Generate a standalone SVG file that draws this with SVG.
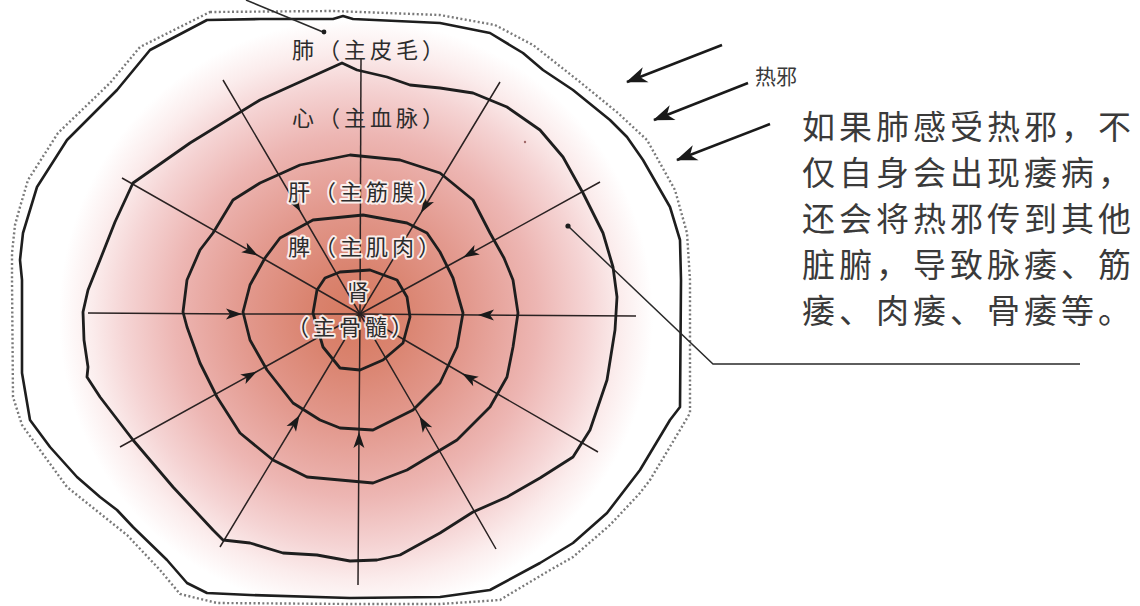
<svg xmlns="http://www.w3.org/2000/svg" width="1140" height="606" viewBox="0 0 1140 606">
<defs>
<radialGradient id="glow" gradientUnits="userSpaceOnUse" cx="356" cy="316" r="330">
<stop offset="0" stop-color="#d6795f"/>
<stop offset="0.15" stop-color="#da8470"/>
<stop offset="0.35" stop-color="#e39a8f"/>
<stop offset="0.55" stop-color="#edb6b3"/>
<stop offset="0.7" stop-color="#f5d4d4"/>
<stop offset="0.8" stop-color="#fbecec"/>
<stop offset="0.9" stop-color="#ffffff"/>
<stop offset="1" stop-color="#ffffff"/>
</radialGradient>
<marker id="ah" markerUnits="userSpaceOnUse" markerWidth="20" markerHeight="14" refX="0" refY="0" viewBox="-18 -7 20 14" orient="auto">
<path d="M1,0 L-15,-5.5 L-11,0 L-15,5.5 Z" fill="#1a1a1a"/>
</marker>
<marker id="hot" markerUnits="userSpaceOnUse" markerWidth="26" markerHeight="18" refX="0" refY="0" viewBox="-22 -9 24 18" orient="auto">
<path d="M1,0 L-20,-8 L-14,0 L-20,8 Z" fill="#1a1a1a"/>
</marker>
</defs>
<style>
.ring{fill:none;stroke:#1e1e1e;stroke-width:2.8;stroke-linejoin:round}
.dots{fill:none;stroke:#7a7a7a;stroke-width:2.4;stroke-dasharray:2 2.4}
.ray{fill:none;stroke:#2a2222;stroke-width:1.5}
.lead{fill:none;stroke:#2a2a2a;stroke-width:1.5}
.hotline{fill:none;stroke:#1a1a1a;stroke-width:2.6;marker-end:url(#hot)}
.lbl{font-family:"Noto Sans CJK SC","Noto Sans CJK JP",sans-serif;font-size:22px;fill:#2c2c2c;letter-spacing:4px}
.halo{paint-order:stroke;stroke:#ffffff;stroke-width:4;stroke-opacity:0.85;stroke-linejoin:round}
.para{font-family:"Noto Sans CJK SC","Noto Sans CJK JP",sans-serif;font-size:33px;fill:#3a3a3a;letter-spacing:4px}
.small{font-family:"Noto Sans CJK SC","Noto Sans CJK JP",sans-serif;font-size:21px;fill:#3a3a3a}
</style>
<rect width="1140" height="606" fill="#ffffff"/>

<g id="outer-boundary">
<path class="dots" d="M210,12 L333,11 L440,15 L495,25 L533,45 L580,82 L618,113 L647,140 L675,190 L687,233 L690,280 L690,413 L680,430 L650,480 L640,493 L610,525 L573,557 L545,573 L500,600 L440,604 L350,604 L217,603 L180,594 L160,570 L127,535 L67,487 L40,450 L22,425 L13,397 L12,280 L12,253 L15,225 L20,207 L28,180 L58,133 L110,83 L140,47 Z"/>
<path id="outer-solid" fill="url(#glow)" stroke="#1e1e1e" stroke-width="2.6" stroke-linejoin="round" d="M207,20 L260,19 L333,19 L343,16 L353,19 L440,23 L490,33 L523,53 L543,70 L573,90 L610,120 L627,137 L643,160 L670,207 L680,240 L681,280 L680,407 L670,420 L640,470 L607,513 L573,543 L540,563 L490,590 L440,597 L350,598 L250,595 L207,593 L187,583 L167,560 L133,527 L117,510 L100,497 L77,477 L50,447 L30,420 L22,373 L22,280 L20,260 L23,233 L37,187 L67,140 L117,90 L150,50 Z"/>
</g>

<g id="connectors">
<path class="ray" d="M361,58 L360,314"/>
<path class="ray" marker-mid="url(#ah)" d="M88,313 L241,314 L360,314"/>
<path class="ray" marker-mid="url(#ah)" d="M636,316 L479,315 L360,314"/>
<path class="ray" marker-mid="url(#ah)" d="M358,585 L359,433 L360,314"/>
<path class="ray" marker-mid="url(#ah)" d="M223,80 L300,211 L360,314"/>
<path class="ray" marker-mid="url(#ah)" d="M500,82 L421.5,212 L360,314"/>
<path class="ray" marker-mid="url(#ah)" d="M122,178 L257,255 L360,314"/>
<path class="ray" marker-mid="url(#ah)" d="M600,182 L464,257 L360,314"/>
<path class="ray" marker-mid="url(#ah)" d="M120,447 L256,372 L360,314"/>
<path class="ray" marker-mid="url(#ah)" d="M598,452 L463,374 L360,314"/>
<path class="ray" marker-mid="url(#ah)" d="M220,547 L299,416 L360,314"/>
<path class="ray" marker-mid="url(#ah)" d="M496,549 L420,417 L360,314"/>
<path class="hotline" d="M722,45 L627,82"/>
<path class="hotline" d="M748,83 L654,120"/>
<path class="hotline" d="M770,124 L677,160"/>
<path class="lead" d="M246,0 L323,32"/>
<circle cx="324" cy="32" r="2.4" fill="#1e1e1e"/>
<path class="lead" d="M568,226 L713,364 L1080,364"/>
<circle cx="568" cy="226" r="2.6" fill="#1e1e1e"/>
<circle cx="525" cy="142" r="1.2" fill="#a06868"/>
</g>

<g id="ring-heart"><path class="ring" d="M342,63 L357,70 L387,77 L410,85 L440,88 L473,93 L507,107 L540,130 L563,157 L583,193 L603,233 L613,267 L617,297 L615,330 L607,380 L590,430 L573,457 L540,478 L507,497 L473,512 L440,533 L400,555 L377,560 L350,561 L317,555 L283,553 L250,543 L223,540 L213,530 L173,487 L133,440 L100,397 L87,377 L88,367 L84,340 L83,312 L88,290 L100,260 L115,222 L133,183 L190,143 L260,100 Z"/></g>
<g id="ring-liver"><path class="ring" d="M350,155 L400,160 L440,173 L473,200 L490,233 L504,258 L513,280 L518,313 L513,347 L507,377 L490,407 L457,440 L407,470 L373,483 L340,480 L307,477 L273,460 L240,433 L217,397 L200,363 L187,327 L183,312 L187,280 L200,250 L213,233 L233,200 L260,183 L300,165 Z"/></g>
<g id="ring-spleen"><path class="ring" d="M363,215 L407,223 L427,233 L440,252 L453,278 L463,313 L457,347 L440,383 L413,410 L373,430 L340,428 L320,420 L293,403 L267,370 L250,340 L243,312 L250,285 L265,258 L280,238 L313,220 Z"/></g>
<g id="ring-kidney"><path class="ring" d="M340,272 L370,270 L397,280 L407,297 L410,317 L403,343 L383,360 L360,370 L340,368 L323,347 L313,313 L317,290 L325,278 Z"/></g>

<g id="label-lung"><text class="lbl" x="292" y="58">肺（主皮毛）</text></g>
<g id="label-heart"><text class="lbl" x="292" y="126">心（主血脉）</text></g>
<g id="label-liver"><text class="lbl halo" x="288" y="200">肝（主筋膜）</text></g>
<g id="label-spleen"><text class="lbl halo" x="288" y="255">脾（主肌肉）</text></g>
<g id="label-kidney">
<text class="lbl halo" x="347" y="300" letter-spacing="0">肾</text>
<text class="lbl halo" x="287" y="335">（主骨髓）</text>
</g>

<g id="label-heat"><text class="small" x="755" y="84">热邪</text></g>
<g id="note">
<text class="para" x="802" y="139">如果肺感受热邪，不</text>
<text class="para" x="802" y="185">仅自身会出现痿病，</text>
<text class="para" x="802" y="231">还会将热邪传到其他</text>
<text class="para" x="802" y="277">脏腑，导致脉痿、筋</text>
<text class="para" x="802" y="323">痿、肉痿、骨痿等。</text>
</g>
</svg>
